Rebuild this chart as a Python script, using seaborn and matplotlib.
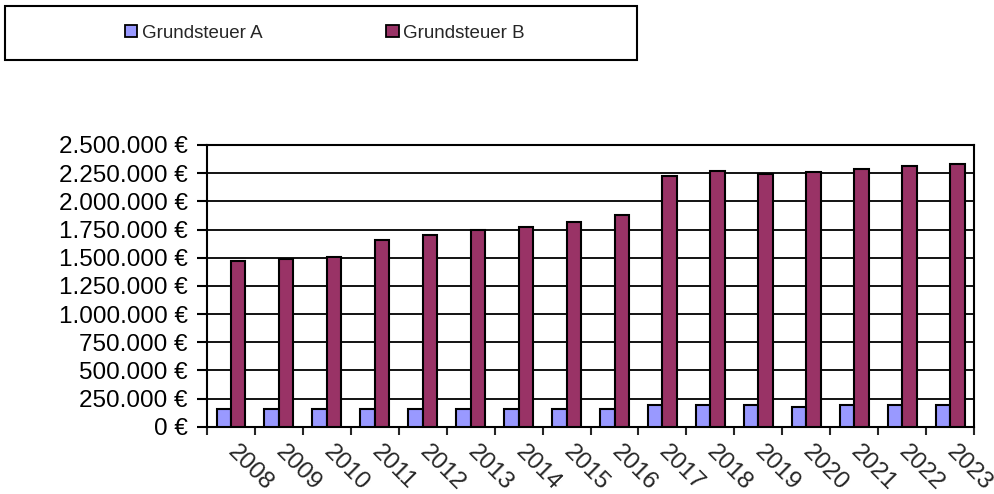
import matplotlib
matplotlib.use("Agg")
import matplotlib.pyplot as plt
import matplotlib.patches as mpatches
from matplotlib.ticker import FuncFormatter, FixedLocator
import seaborn as sns
import pandas as pd

years = ["2008", "2009", "2010", "2011", "2012", "2013", "2014", "2015",
         "2016", "2017", "2018", "2019", "2020", "2021", "2022", "2023"]
grundsteuer_a = [160000, 160000, 160000, 160000, 160000, 160000, 160000, 160000,
                 160000, 190000, 190000, 190000, 172000, 190000, 190000, 190000]
grundsteuer_b = [1473000, 1491000, 1505000, 1654000, 1704000, 1743000, 1775000, 1814000,
                 1881000, 2222000, 2272000, 2240000, 2258000, 2290000, 2311000, 2329000]
series_names = ["Grundsteuer A", "Grundsteuer B"]
colors = ["#9999FF", "#993366"]
y_ticks = list(range(0, 2500001, 250000))

df = pd.DataFrame({
    "Jahr": years * 2,
    "Wert": grundsteuer_a + grundsteuer_b,
    "Serie": [series_names[0]] * len(years) + [series_names[1]] * len(years),
})

sns.set_style("white")
plt.rcParams["font.family"] = ["Liberation Sans", "DejaVu Sans"]

fig = plt.figure(figsize=(9.95, 4.94), dpi=100)
ax = fig.add_axes([0.208, 0.1362, 0.771, 0.5703])

sns.barplot(data=df, x="Jahr", y="Wert", hue="Serie", palette=colors,
            width=0.6, edgecolor="black", linewidth=1.5, ax=ax,
            legend=False, zorder=3, saturation=1)

ax.set_xlim(-0.5, len(years) - 0.5)
ax.set_ylim(0, 2500000)
ax.set_xlabel("")
ax.set_ylabel("")
ax.yaxis.set_major_locator(FixedLocator(y_ticks))
ax.yaxis.set_major_formatter(FuncFormatter(lambda v, p: f"{int(v):,}".replace(",", ".") + " €"))
ax.grid(axis="y", color="black", linewidth=1.3, zorder=0)
ax.set_axisbelow(True)
for s in ax.spines.values():
    s.set_color("black")
    s.set_linewidth(1.5)

ax.tick_params(axis="y", which="major", length=7, width=1.5, direction="out",
               left=True, labelsize=17.5, pad=7, colors="black")
ax.set_xticks([i - 0.5 for i in range(len(years) + 1)], minor=True)
ax.tick_params(axis="x", which="minor", length=6, width=1.5, direction="out", bottom=True)
ax.tick_params(axis="x", which="major", length=0, labelsize=17.5, pad=16)
for lbl in ax.get_xticklabels():
    lbl.set_rotation(-45)
    lbl.set_ha("left")
    lbl.set_va("center")
    lbl.set_rotation_mode("anchor")

# legend box
fig.patches.append(mpatches.Rectangle((5 / 995, 1 - 60 / 494), 632 / 995, 54 / 494,
                                      transform=fig.transFigure, fill=False,
                                      edgecolor="black", linewidth=1.5))
handles = [mpatches.Patch(facecolor=c, edgecolor="black", linewidth=1.3, label=n)
           for c, n in zip(colors, series_names)]
fig.legend(handles=handles, loc="center", bbox_to_anchor=(325 / 995, 1 - 33 / 494),
           ncol=2, frameon=False, fontsize=13.5, handlelength=0.65, handleheight=0.65,
           handletextpad=0.25, columnspacing=6.6)

fig.savefig("out.png", dpi=100)
